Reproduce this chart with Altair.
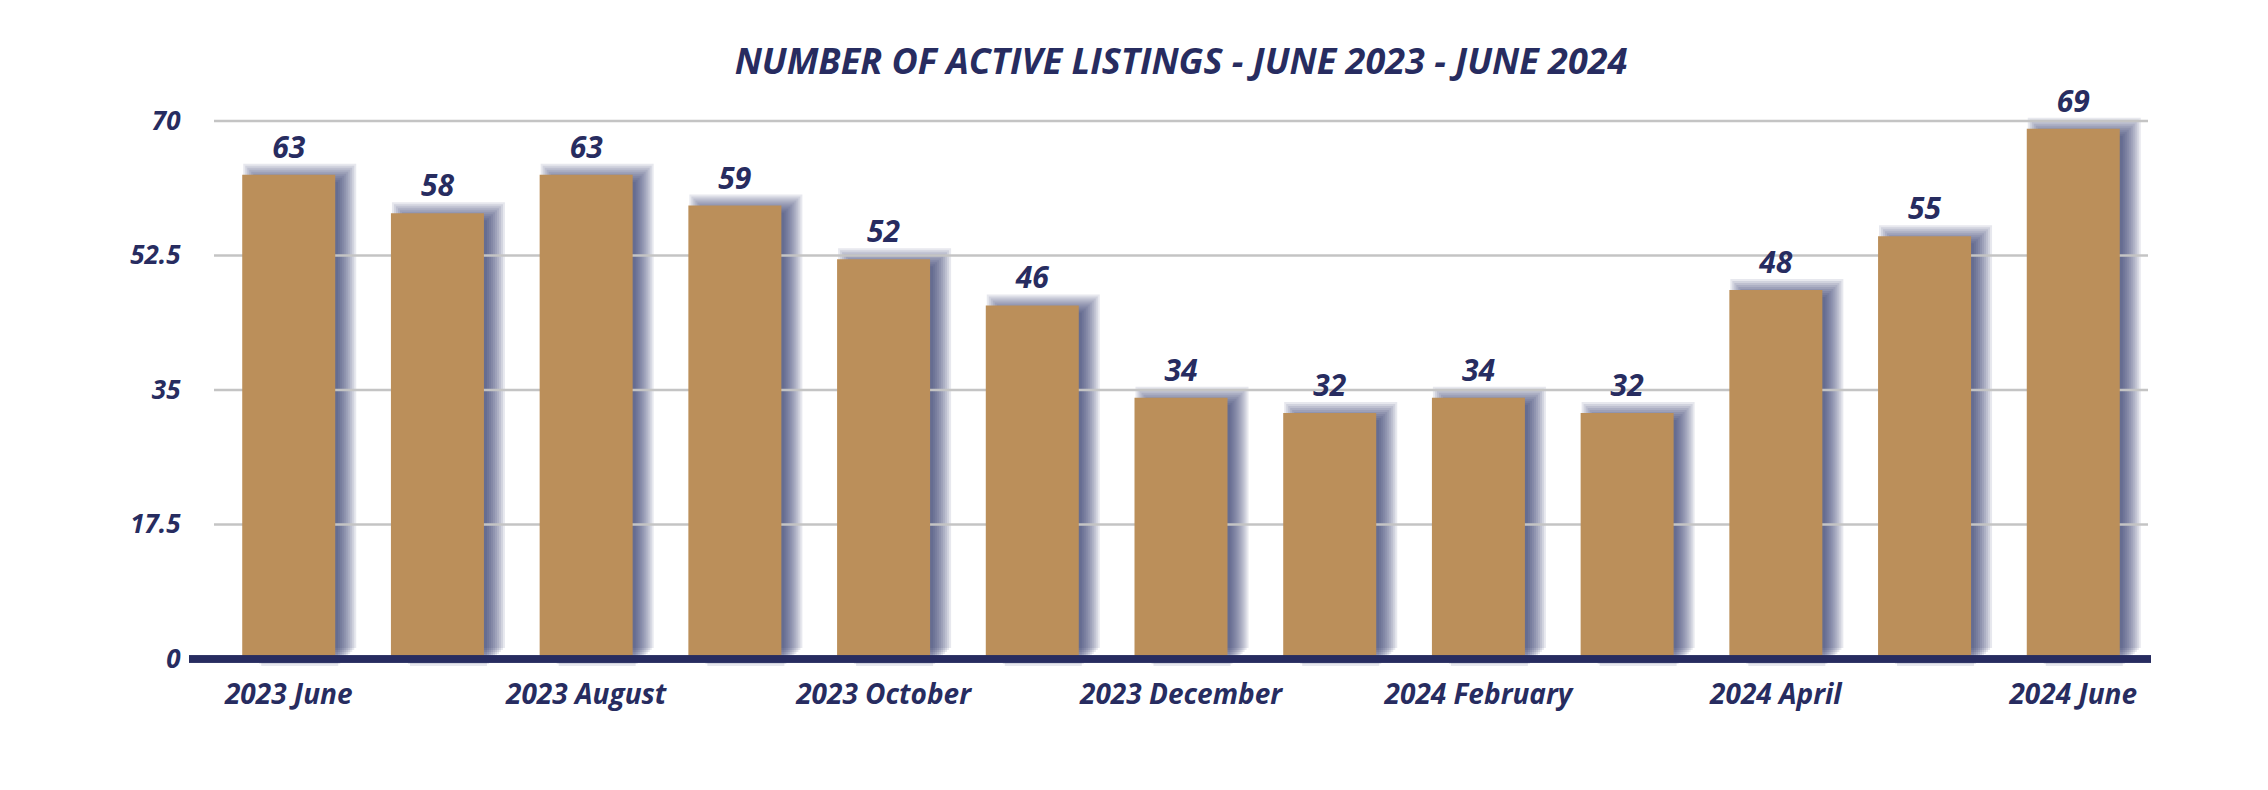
import altair as alt
import pandas as pd

months = ["2023 June", "2023 July", "2023 August", "2023 September", "2023 October",
          "2023 November", "2023 December", "2024 January", "2024 February",
          "2024 March", "2024 April", "2024 May", "2024 June"]
listings = [63, 58, 63, 59, 52, 46, 34, 32, 34, 32, 48, 55, 69]
shown_labels = ["2023 June", "2023 August", "2023 October", "2023 December",
                "2024 February", "2024 April", "2024 June"]
y_ticks = [0, 17.5, 35, 52.5, 70]
grid_values = [17.5, 35, 52.5, 70]

NAVY = "#272c60"
GOLD = "#bb8f5a"
GRID = "#c4c4c4"
FONT = "Open Sans"

df = pd.DataFrame({"month": months, "value": listings})
grid_df = pd.DataFrame({"g": grid_values})

W, H = 1934, 538
BAR_W = 93

x_enc = alt.X("month:N", sort=months, scale=alt.Scale(paddingInner=0.375, paddingOuter=0.19),
              axis=alt.Axis(values=shown_labels, title=None, ticks=False, domain=False,
                            labelAngle=0, labelFont=FONT, labelFontSize=28, labelLimit=0,
                            labelFontStyle="italic", labelFontWeight="bold",
                            labelColor=NAVY, labelPadding=22, grid=False))
y_scale = alt.Scale(domain=[0, 70], nice=False)
y_enc = alt.Y("value:Q", scale=y_scale,
              axis=alt.Axis(values=y_ticks, title=None, ticks=False, domain=False, grid=False,
                            labelExpr="'' + datum.value", labelFont=FONT, labelFontSize=26,
                            labelFontStyle="italic", labelFontWeight="bold",
                            labelColor=NAVY, labelPadding=34))

base = alt.Chart(df)

shadow_layers = []
for e in [-8, -6, -4, -2, 0, 2, 4, 6, 8, 10]:
    shadow_layers.append(
        base.mark_bar(color=NAVY, opacity=0.11, width=BAR_W + 2 * e,
                      xOffset=11, yOffset=-1 - e, y2Offset=0)
        .encode(x=x_enc, y=y_enc)
    )

grid = alt.Chart(grid_df).mark_rule(color=GRID, strokeWidth=2.5).encode(
    y=alt.Y("g:Q", scale=y_scale), x=alt.value(0), x2=alt.value(W))

bars = base.mark_bar(color=GOLD, width=BAR_W).encode(x=x_enc, y=y_enc)

labels = base.mark_text(font=FONT, fontSize=30, fontStyle="italic", fontWeight="bold",
                        color=NAVY, baseline="bottom", dy=-11).encode(
    x=x_enc, y=y_enc, text="value:Q")

axis_line = alt.Chart(grid_df).mark_rule(color=NAVY, strokeWidth=7).encode(
    y=alt.value(H), x=alt.value(-25), x2=alt.value(W + 3))

chart = alt.layer(*shadow_layers, grid, bars, labels, axis_line).properties(
    width=W, height=H,
    title=alt.TitleParams("NUMBER OF ACTIVE LISTINGS - JUNE 2023 - JUNE 2024",
                          font=FONT, fontSize=36, fontStyle="italic", fontWeight="bold",
                          color=NAVY, anchor="middle", frame="group", offset=6),
    padding={"left": 214, "top": 121, "right": 120, "bottom": 131},
    autosize=alt.AutoSizeParams(type="none"),
).configure_view(stroke=None)

chart.save("out.html", embed_options={"renderer": "svg", "actions": False})
